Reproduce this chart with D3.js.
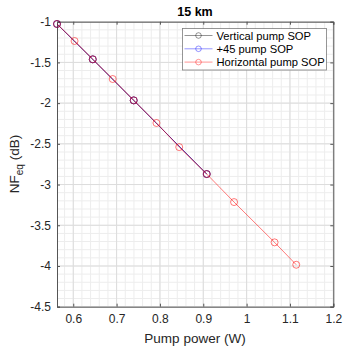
<!DOCTYPE html>
<html><head><meta charset="utf-8">
<script src="https://cdn.jsdelivr.net/npm/d3@7"></script>
<style>body{margin:0;background:#fff}svg{display:block}text{font-family:"Liberation Sans",Arial,sans-serif}</style>
</head><body><svg id="c" width="358" height="355"></svg>
<script>
const title = "15 km";
const xLabel = "Pump power (W)";
const seriesNames = ["Vertical pump SOP", "+45 pump SOP", "Horizontal pump SOP"];
const seriesColors = ["#000000", "#0000ff", "#ff0000"];
const verticalX = [0.5625, 0.645, 0.7395, 0.908];
const verticalY = [-1.028, -1.462, -1.966, -2.871];
const plus45X = [0.5625, 0.645, 0.7395, 0.908];
const plus45Y = [-1.028, -1.462, -1.966, -2.871];
const horizX = [0.5625, 0.603, 0.645, 0.691, 0.7395, 0.792, 0.8445, 0.908, 0.971, 1.0645, 1.1145];
const horizY = [-1.028, -1.237, -1.462, -1.704, -1.966, -2.244, -2.54, -2.871, -3.215, -3.71, -3.985];
const xTicks = [0.6, 0.7, 0.8, 0.9, 1, 1.1, 1.2];
const yTicks = [-1, -1.5, -2, -2.5, -3, -3.5, -4, -4.5];

const svg = d3.select("#c");
const L = 57, R = 333.3, T = 21.7, B = 306.7;
const x = d3.scaleLinear().domain([0.5625, 1.2]).range([L, R]);
const y = d3.scaleLinear().domain([-4.5, -1]).range([B, T]);

// minor grid
const xMinor = d3.range(0.56, 1.2001, 0.02).filter(v => v >= 0.5625);
const yMinor = d3.range(-4.5, -0.999, 0.1);
const g = svg.append("g");
g.selectAll(".xm").data(xMinor).join("line")
  .attr("x1", d => x(d)).attr("x2", d => x(d)).attr("y1", T).attr("y2", B)
  .attr("stroke", "#ededed").attr("stroke-width", 1);
g.selectAll(".ym").data(yMinor).join("line")
  .attr("y1", d => y(d)).attr("y2", d => y(d)).attr("x1", L).attr("x2", R)
  .attr("stroke", "#ededed").attr("stroke-width", 1);
g.selectAll(".xg").data(xTicks).join("line")
  .attr("x1", d => x(d)).attr("x2", d => x(d)).attr("y1", T).attr("y2", B)
  .attr("stroke", "#dcdcdc").attr("stroke-width", 1);
g.selectAll(".yg").data(yTicks).join("line")
  .attr("y1", d => y(d)).attr("y2", d => y(d)).attr("x1", L).attr("x2", R)
  .attr("stroke", "#dcdcdc").attr("stroke-width", 1);

// axes
const fmt = d => String(d);
const axB = svg.append("g").attr("transform", `translate(0,${B})`)
  .call(d3.axisBottom(x).tickValues(xTicks).tickSize(-3).tickPadding(8).tickFormat(fmt));
const axT = svg.append("g").attr("transform", `translate(0,${T})`)
  .call(d3.axisTop(x).tickValues(xTicks).tickSize(-3).tickFormat(""));
const axLf = svg.append("g").attr("transform", `translate(${L},0)`)
  .call(d3.axisLeft(y).tickValues(yTicks).tickSize(-3).tickPadding(6).tickFormat(fmt));
const axRt = svg.append("g").attr("transform", `translate(${R},0)`)
  .call(d3.axisRight(y).tickValues(yTicks).tickSize(-3).tickFormat(""));
[axB, axT, axLf, axRt].forEach(a => {
  a.select(".domain").attr("stroke", "#555").attr("stroke-width", 1);
  a.selectAll(".tick line").attr("stroke", "#555");
  a.selectAll("text").attr("fill", "#262626").attr("font-size", 12)
    .attr("font-family", "Liberation Sans, Arial, sans-serif");
});
axB.selectAll("text").attr("dy", "0.71em");

// series
const data = [
  verticalX.map((v, i) => [v, verticalY[i]]),
  plus45X.map((v, i) => [v, plus45Y[i]]),
  horizX.map((v, i) => [v, horizY[i]])
];
const line = d3.line().x(d => x(d[0])).y(d => y(d[1]));
data.forEach((s, k) => {
  svg.append("path").datum(s).attr("d", line).attr("fill", "none")
    .attr("stroke", seriesColors[k]).attr("stroke-width", 0.7).attr("stroke-opacity", 0.75);
  svg.append("g").selectAll("circle").data(s).join("circle")
    .attr("cx", d => x(d[0])).attr("cy", d => y(d[1])).attr("r", 3.5)
    .attr("fill", "none").attr("stroke", seriesColors[k]).attr("stroke-width", 0.7).attr("stroke-opacity", 0.75);
});

// legend
const lg = svg.append("g");
lg.append("rect").attr("x", 182.5).attr("y", 28.5).attr("width", 144).attr("height", 41.5)
  .attr("fill", "#fff").attr("stroke", "#262626").attr("stroke-opacity", 0.6).attr("stroke-width", 0.8);
seriesNames.forEach((n, i) => {
  const yy = 35.5 + i * 13.3;
  lg.append("line").attr("x1", 184.5).attr("x2", 212.5).attr("y1", yy).attr("y2", yy)
    .attr("stroke", seriesColors[i]).attr("stroke-width", 0.7).attr("stroke-opacity", 0.6);
  lg.append("circle").attr("cx", 198.5).attr("cy", yy).attr("r", 2.8).attr("fill", "none")
    .attr("stroke", seriesColors[i]).attr("stroke-width", 0.7).attr("stroke-opacity", 0.6);
  lg.append("text").attr("x", 216.5).attr("y", yy + 4).attr("font-size", 11.2)
    .attr("fill", "#000").text(n);
});

// title & labels
svg.append("text").attr("x", 195).attr("y", 16).attr("text-anchor", "middle")
  .attr("font-size", 12.5).attr("font-weight", "bold").attr("fill", "#000").text(title);
svg.append("text").attr("x", 195).attr("y", 343).attr("text-anchor", "middle")
  .attr("font-size", 13.5).attr("fill", "#262626").text(xLabel);
const yl = svg.append("text").attr("transform", "translate(19,164) rotate(-90)")
  .attr("text-anchor", "middle").attr("font-size", 13.5).attr("fill", "#262626");
yl.append("tspan").text("NF");
yl.append("tspan").attr("font-size", 10).attr("dy", 4).text("eq");
yl.append("tspan").attr("dy", -4).text(" (dB)");
</script></body></html>
